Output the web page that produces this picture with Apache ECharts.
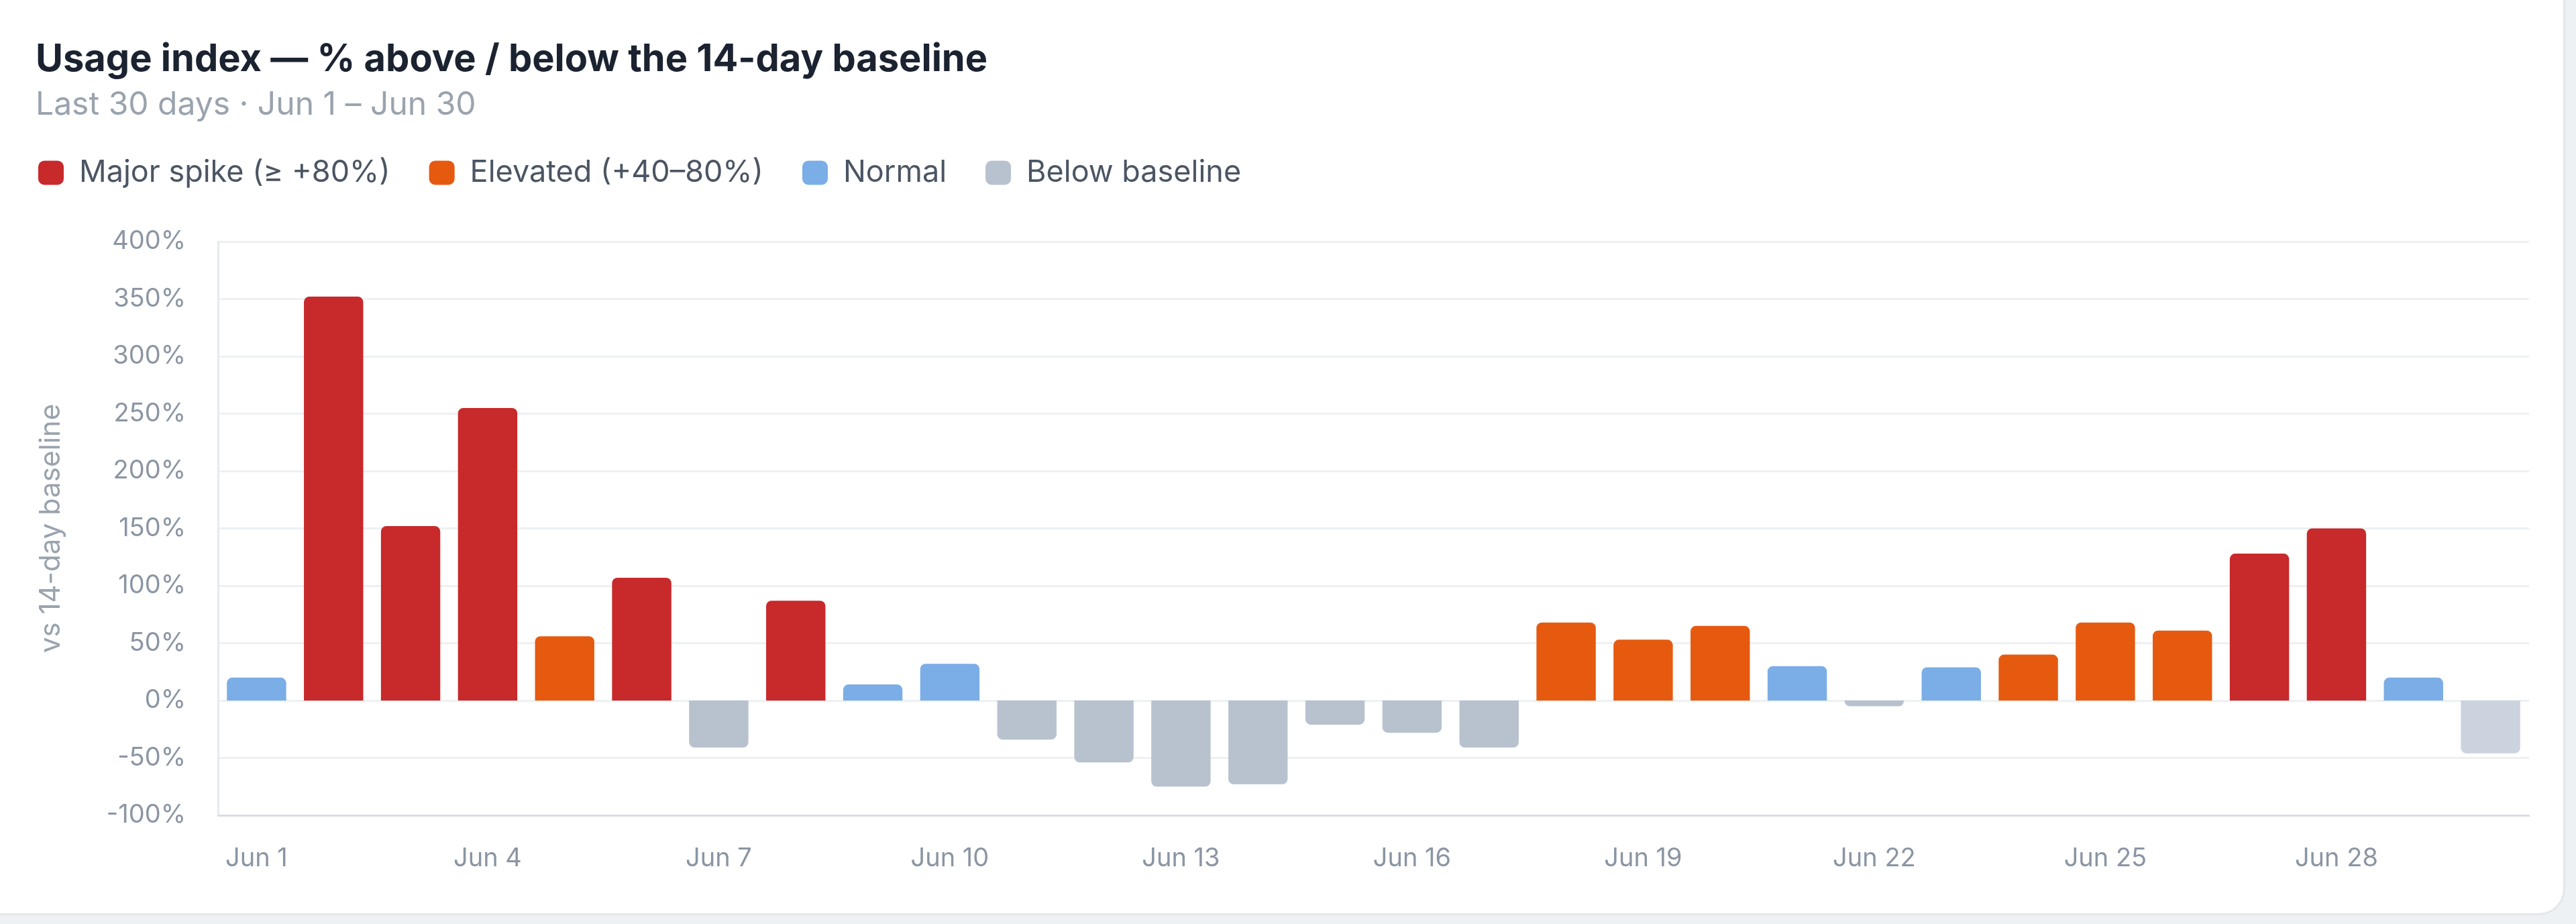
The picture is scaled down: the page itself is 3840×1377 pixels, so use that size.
<!DOCTYPE html>
<html>
<head>
<meta charset="utf-8">
<title>Usage index</title>
<script src="https://cdn.jsdelivr.net/npm/echarts@6/dist/echarts.min.js"></script>
<style>
  html, body { margin: 0; padding: 0; background: #eef1f4; overflow: hidden; }
  #card {
    position: absolute; left: -40px; top: -40px; width: 3864px; height: 1404px;
    background: #fff; border: 3px solid #e3e7ec; border-radius: 40px; box-sizing: border-box;
  }
  #chart { position: absolute; left: 0; top: 0; width: 3840px; height: 1377px; }
</style>
</head>
<body>
<div id="card"></div>
<div id="chart"></div>
<script>
const days = ['Jun 1', 'Jun 2', 'Jun 3', 'Jun 4', 'Jun 5', 'Jun 6', 'Jun 7', 'Jun 8', 'Jun 9', 'Jun 10',
  'Jun 11', 'Jun 12', 'Jun 13', 'Jun 14', 'Jun 15', 'Jun 16', 'Jun 17', 'Jun 18', 'Jun 19', 'Jun 20',
  'Jun 21', 'Jun 22', 'Jun 23', 'Jun 24', 'Jun 25', 'Jun 26', 'Jun 27', 'Jun 28', 'Jun 29', 'Jun 30'];

// % above / below the 14-day baseline
const usage = [20, 352, 152, 255, 56, 107, -41, 87, 14, 32,
  -34, -54, -75, -73, -21, -28, -41, 68, 53, 65,
  30, -5, 29, 40, 68, 61, 128, 150, 20, -46];

const tierNames = ['Major spike (≥ +80%)', 'Elevated (+40–80%)', 'Normal', 'Below baseline'];
const tierColors = ['#c8292b', '#e65a10', '#7badE6', '#b8c2cf'];

const yMin = -100;
const yMax = 400;
const yStep = 50;

function tierOf(v) {
  if (v >= 80) return 0;
  if (v >= 40) return 1;
  if (v >= 0) return 2;
  return 3;
}

const font = 'Inter, "Noto Sans", sans-serif';

const series = tierNames.map((name, t) => ({
  name: name,
  type: 'bar',
  stack: 'day',
  barCategoryGap: '23%',
  itemStyle: {
    color: tierColors[t],
    borderRadius: t === 3 ? [0, 0, 8, 8] : [8, 8, 0, 0]
  },
  data: usage.map((v, i) => {
    if (tierOf(v) !== t) return '-';
    // the current day is still partial, drawn a touch lighter
    if (i === usage.length - 1) return { value: v, itemStyle: { color: '#cbd3df' } };
    return v;
  })
}));

const chart = echarts.init(document.getElementById('chart'));

chart.setOption({
  backgroundColor: 'transparent',
  title: {
    text: 'Usage index — % above / below the 14-day baseline',
    subtext: 'Last 30 days · Jun 1 – Jun 30',
    left: 48,
    top: 56,
    itemGap: 16,
    textStyle: { fontFamily: font, fontSize: 56, fontWeight: 'bold', color: '#1b2230' },
    subtextStyle: { fontFamily: font, fontSize: 48, color: '#9aa3ae' }
  },
  legend: {
    left: 52,
    top: 230,
    icon: 'roundRect',
    itemWidth: 38,
    itemHeight: 36,
    itemGap: 58,
    textStyle: { fontFamily: font, fontSize: 45, color: '#4b5563', padding: [0, 0, 0, 18] },
    data: tierNames
  },
  grid: {
    left: 325,
    right: 70,
    top: 360,
    bottom: 162
  },
  xAxis: {
    type: 'category',
    data: days,
    axisLine: { onZero: false, lineStyle: { color: '#d9dde3', width: 3 } },
    axisTick: { show: false },
    axisLabel: {
      interval: 2,
      margin: 46,
      fontFamily: font,
      fontSize: 38,
      color: '#8b95a3'
    }
  },
  yAxis: {
    type: 'value',
    min: yMin,
    max: yMax,
    interval: yStep,
    name: 'vs 14-day baseline',
    nameLocation: 'middle',
    nameGap: 228,
    nameTextStyle: { fontFamily: font, fontSize: 42, color: '#9aa3ae' },
    axisLine: { show: true, lineStyle: { color: '#e6e9ee', width: 3 } },
    axisLabel: {
      margin: 48,
      fontFamily: font,
      fontSize: 38,
      color: '#8b95a3',
      formatter: '{value}%'
    },
    splitLine: { lineStyle: { color: '#eef0f3', width: 3 } }
  },
  series: series
});
</script>
</body>
</html>
